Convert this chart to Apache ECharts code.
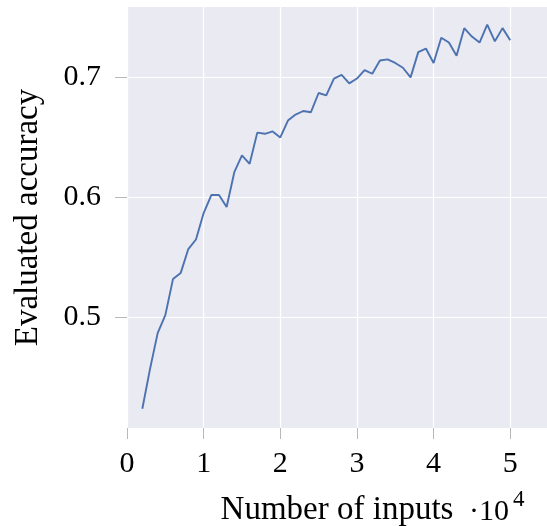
<!DOCTYPE html>
<html>
<head>
<meta charset="utf-8">
<script src="https://cdn.jsdelivr.net/npm/echarts@6/dist/echarts.min.js"></script>
<style>
  html, body { margin: 0; padding: 0; background: #ffffff; }
  #chart { width: 547px; height: 526px; }
</style>
</head>
<body>
<div id="chart"></div>
<script>
// Number of inputs (raw counts)
const inputs = [2000, 3000, 4000, 5000, 6000, 7000, 8000, 9000, 10000, 11000,
  12000, 13000, 14000, 15000, 16000, 17000, 18000, 19000, 20000, 21000,
  22000, 23000, 24000, 25000, 26000, 27000, 28000, 29000, 30000, 31000,
  32000, 33000, 34000, 35000, 36000, 37000, 38000, 39000, 40000, 41000,
  42000, 43000, 44000, 45000, 46000, 47000, 48000, 49000, 50000];
// Evaluated accuracy
const accuracy = [0.424, 0.457, 0.487, 0.502, 0.532, 0.537, 0.557, 0.565, 0.587, 0.602,
  0.602, 0.592, 0.621, 0.635, 0.628, 0.654, 0.653, 0.655, 0.650, 0.664,
  0.669, 0.672, 0.671, 0.687, 0.685, 0.699, 0.702, 0.695, 0.699, 0.706,
  0.703, 0.714, 0.715, 0.712, 0.708, 0.700, 0.721, 0.724, 0.712, 0.733,
  0.729, 0.718, 0.741, 0.734, 0.729, 0.744, 0.730, 0.741, 0.731];
const xTicks = [0, 10000, 20000, 30000, 40000, 50000];
const yTicks = [0.5, 0.6, 0.7];
const xName = 'Number of inputs';
const yName = 'Evaluated accuracy';

const FONT = '"Liberation Serif", "Times New Roman", serif';
const chart = echarts.init(document.getElementById('chart'), null, { renderer: 'canvas' });
const seriesData = inputs.map((x, i) => [x, accuracy[i]]);

chart.setOption({
  animation: false,
  backgroundColor: '#ffffff',
  grid: {
    left: 127, top: 7, right: 0, bottom: 98,
    outerBoundsMode: 'none', containLabel: false,
    show: true, backgroundColor: '#EAEAF2', borderWidth: 0
  },
  xAxis: {
    type: 'value', min: 0, max: 54800,
    name: xName, nameLocation: 'middle', nameGap: 66,
    nameTextStyle: { fontFamily: FONT, fontSize: 33, color: '#000' },
    axisLine: { show: false },
    axisTick: { show: true, length: 11, customValues: xTicks, lineStyle: { color: '#b8b8b8', width: 1 } },
    axisLabel: { customValues: xTicks, margin: 21, fontFamily: FONT, fontSize: 30, color: '#000',
      formatter: v => String(Math.round(v / 10000)) },
    splitLine: { show: true, lineStyle: { color: '#ffffff', width: 1.2 } }
  },
  yAxis: {
    type: 'value', min: 0.408, max: 0.7586,
    name: yName, nameLocation: 'middle', nameGap: 82,
    nameTextStyle: { fontFamily: FONT, fontSize: 33, color: '#000' },
    axisLine: { show: false },
    axisTick: { show: true, length: 12, customValues: yTicks, lineStyle: { color: '#b8b8b8', width: 1 } },
    axisLabel: { customValues: yTicks, margin: 26, fontFamily: FONT, fontSize: 30, color: '#000',
      formatter: v => v.toFixed(1) },
    splitLine: { show: true, lineStyle: { color: '#ffffff', width: 1.2 } }
  },
  series: [{
    type: 'line', data: seriesData, showSymbol: false, symbol: 'none',
    lineStyle: { color: '#4C72B0', width: 1.9 }, itemStyle: { color: '#4C72B0' }
  }],
  graphic: [
    { type: 'text', left: 469, top: 497, style: { text: '·', font: '30px ' + FONT, fill: '#000' } },
    { type: 'text', left: 479, top: 497, style: { text: '10', font: '30px ' + FONT, fill: '#000' } },
    { type: 'text', left: 513, top: 488, style: { text: '4', font: '23px ' + FONT, fill: '#000' } }
  ]
});
</script>
</body>
</html>
